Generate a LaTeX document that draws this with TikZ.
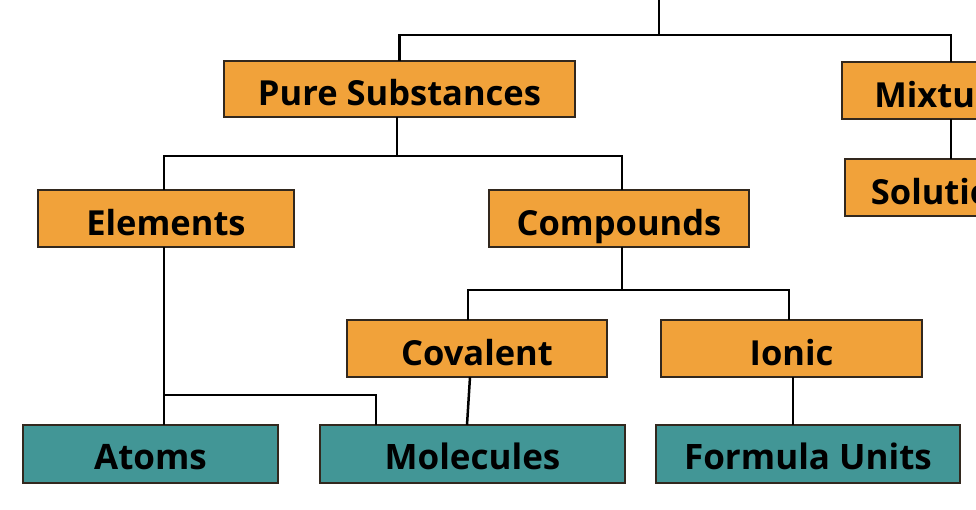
\documentclass[tikz,border=0pt]{standalone}
\usepackage{fontspec}
\setmainfont{Open Sans}
\definecolor{boxorange}{RGB}{241,162,58}
\definecolor{boxteal}{RGB}{66,150,150}
\definecolor{boxedge}{RGB}{50,40,30}
\begin{document}
\begin{tikzpicture}[x=1pt,y=-1pt,
  box/.style={draw=boxedge, line width=1.4pt, inner sep=0pt, outer sep=0pt,
    minimum height=57pt, text height=33.6pt, text depth=0pt,
    font=\fontsize{34.5}{34.5}\selectfont\bfseries},
  obox/.style={box, fill=boxorange},
  tbox/.style={box, fill=boxteal, minimum height=58pt, text height=30pt,
    font=\fontsize{35}{35}\selectfont\bfseries},
  conn/.style={draw=black, line width=2.5pt}]
\useasboundingbox (0,0) rectangle (976,510);
\clip (0,0) rectangle (976,510);
\fill[white] (0,0) rectangle (976,510);

% boxes
\node[obox, minimum width=351pt, minimum height=56pt] (ps)  at (399.5,89)  {Pure Substances};
\node[obox, minimum width=218pt] (mix) at (951,90.5)  {Mixtures};
\node[obox, minimum width=212pt] (sol) at (951,187.5) {Solutions};
\node[obox, minimum width=256pt] (el)  at (166,218.5) {Elements};
\node[obox, minimum width=260pt] (co)  at (619,218.5) {Compounds};
\node[obox, minimum width=260pt] (cov) at (477,348.5) {Covalent};
\node[obox, minimum width=261pt] (ion) at (791.5,348.5) {Ionic};
\node[tbox, minimum width=255pt] (at)  at (150.5,454) {Atoms};
\node[tbox, minimum width=305pt] (mol) at (472.5,454) {Molecules};
\node[tbox, minimum width=304pt] (fu)  at (808,454)   {Formula Units};

% connectors
\coordinate (root) at (659,0);
\coordinate (bus1) at (659,35);
\coordinate (bus2) at (397,156);
\coordinate (bus3) at (622,290);
\draw[conn] (root) -- (bus1);
\draw[conn] (ps.north) |- (bus1) -| (mix.north);
\draw[conn] (mix.south) -- (sol.north);
\draw[conn] ([xshift=-2.5pt]ps.south) -- (bus2);
\draw[conn] ([xshift=-2pt]el.north) |- (bus2) -| ([xshift=3pt]co.north);
\draw[conn] ([xshift=3pt]co.south) -- (bus3);
\draw[conn] ([xshift=-9pt]cov.north) |- (bus3) -| ([xshift=-2.5pt]ion.north);
\coordinate (bus4) at (164,395);
\draw[conn] ([xshift=-2pt]el.south) -- ([xshift=13.5pt]at.north);
\draw[conn] (bus4) -| ([xshift=-96.5pt]mol.north);
\draw[conn] ([xshift=-7pt]cov.south) -- ([xshift=-5.5pt]mol.north);
\draw[conn] ([xshift=1.5pt]ion.south) -- ([xshift=-15pt]fu.north);
\end{tikzpicture}
\end{document}
